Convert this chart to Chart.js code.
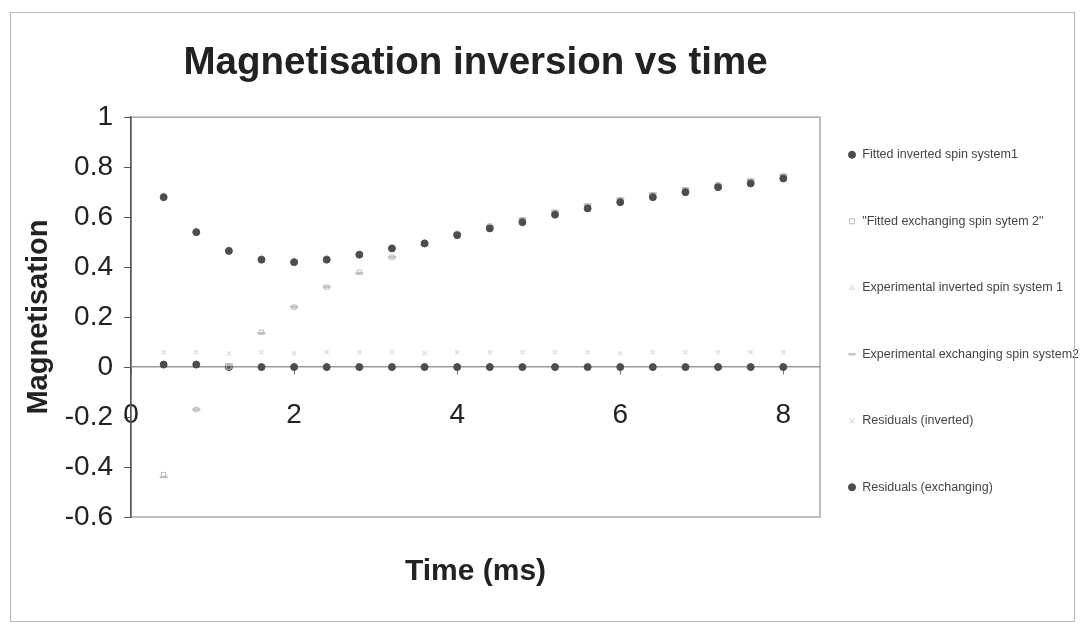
<!DOCTYPE html>
<html>
<head>
<meta charset="utf-8">
<script src="https://cdn.jsdelivr.net/npm/chart.js@4.4.1/dist/chart.umd.min.js"></script>
<style>
  html, body { margin: 0; padding: 0; background: #fff; }
  #wrap { position: relative; width: 1080px; height: 626px; }
  #frame { position: absolute; left: 10px; top: 12px; width: 1065px; height: 610px;
           border: 1.5px solid #b8b8b8; box-sizing: border-box; pointer-events: none; }
</style>
</head>
<body>
<div id="wrap">
  <canvas id="chart" width="1080" height="626"></canvas>
  <div id="frame"></div>
</div>
<script>
// time (ms) of each sample
const times = [0.4, 0.8, 1.2, 1.6, 2.0, 2.4, 2.8, 3.2, 3.6, 4.0, 4.4, 4.8, 5.2, 5.6, 6.0, 6.4, 6.8, 7.2, 7.6, 8.0];

const fittedInverted   = [0.68, 0.54, 0.465, 0.43, 0.42, 0.43, 0.45, 0.475, 0.495, 0.528, 0.555, 0.58, 0.61, 0.635, 0.66, 0.68, 0.70, 0.72, 0.735, 0.755];
const fittedExchanging = [-0.43, -0.17, 0.0, 0.14, 0.24, 0.32, 0.38, 0.44, 0.49, 0.535, 0.565, 0.59, 0.62, 0.645, 0.67, 0.69, 0.71, 0.73, 0.745, 0.765];
const expInverted      = [0.69, 0.55, 0.47, 0.44, 0.42, 0.44, 0.45, 0.48, 0.50, 0.53, 0.56, 0.58, 0.61, 0.64, 0.66, 0.68, 0.70, 0.72, 0.74, 0.76];
const expExchanging    = [-0.44, -0.17, 0.01, 0.135, 0.24, 0.32, 0.375, 0.44, 0.49, 0.535, 0.565, 0.595, 0.625, 0.65, 0.675, 0.695, 0.715, 0.73, 0.75, 0.77];
const residInverted    = [0.06, 0.06, 0.055, 0.06, 0.055, 0.06, 0.06, 0.06, 0.055, 0.06, 0.06, 0.06, 0.06, 0.06, 0.055, 0.06, 0.06, 0.06, 0.06, 0.06];
const residExchanging  = [0.01, 0.01, 0.0, 0.0, 0.0, 0.0, 0.0, 0.0, 0.0, 0.0, 0.0, 0.0, 0.0, 0.0, 0.0, 0.0, 0.0, 0.0, 0.0, 0.0];

const xTicks = [0, 2, 4, 6, 8];

const pts = ys => times.map((t, i) => ({ x: t, y: ys[i] }));

Chart.defaults.font.family = "'Liberation Sans', Arial, sans-serif";

// light grey frame round the plot area
const plotFrame = {
  id: 'plotFrame',
  beforeDraw(chart) {
    const { ctx, chartArea: a } = chart;
    ctx.save();
    ctx.strokeStyle = '#a9a9a9';
    ctx.lineWidth = 1.5;
    ctx.strokeRect(a.left, a.top, a.right - a.left, a.bottom - a.top);
    ctx.restore();
  }
};

// pull the legend a bit closer to the plot (widen its box to the left)
const legendShift = {
  id: 'legendShift',
  afterLayout(chart) {
    const lg = chart.legend;
    lg.left -= 26;
    lg.top += 7; lg.bottom += 7;
  }
};

new Chart(document.getElementById('chart'), {
  type: 'scatter',
  data: {
    datasets: [
      { label: 'Fitted inverted spin system1', data: pts(fittedInverted),
        pointStyle: 'circle', pointRadius: 3.5, backgroundColor: '#4d4d4d', borderColor: '#4d4d4d' },
      { label: '"Fitted exchanging spin sytem 2"', data: pts(fittedExchanging),
        pointStyle: 'rect', pointRadius: 3, backgroundColor: 'rgba(0,0,0,0)', borderColor: '#bdbdbd', borderWidth: 1 },
      { label: 'Experimental inverted spin system 1', data: pts(expInverted),
        pointStyle: 'triangle', pointRadius: 3, backgroundColor: '#eeeeee', borderColor: '#e8e8e8' },
      { label: 'Experimental exchanging spin system2', data: pts(expExchanging),
        pointStyle: 'line', pointRadius: 4, borderColor: '#c4c4c4', borderWidth: 2.5 },
      { label: 'Residuals (inverted)', data: pts(residInverted),
        pointStyle: 'crossRot', pointRadius: 3, borderColor: '#e0e0e0', borderWidth: 1.5 },
      { label: 'Residuals (exchanging)', data: pts(residExchanging),
        pointStyle: 'circle', pointRadius: 3.5, backgroundColor: '#4d4d4d', borderColor: '#4d4d4d' }
    ]
  },
  options: {
    responsive: false,
    animation: false,
    layout: { padding: { left: 10, right: 0, top: 12, bottom: 10 } },
    plugins: {
      title: {
        display: true, text: 'Magnetisation inversion vs time', fullSize: false,
        font: { size: 38.5, weight: 'bold' }, color: '#222',
        padding: { top: 28, bottom: 31 }
      },
      legend: {
        position: 'right', maxWidth: 260,
        labels: { usePointStyle: true, boxWidth: 8, boxHeight: 5, padding: 54,
                  font: { size: 12.5 }, color: '#444' }
      },
      tooltip: { enabled: false }
    },
    scales: {
      x: {
        type: 'linear', position: { y: 0 }, min: 0, max: 8.45,
        afterBuildTicks: s => { s.ticks = xTicks.map(v => ({ value: v })); },
        ticks: { font: { size: 28 }, color: '#222', padding: 24 },
        grid: { drawOnChartArea: false, tickLength: 7, color: '#777' },
        border: { color: '#9a9a9a', width: 1.5 }
      },
      xb: {
        type: 'linear', position: 'bottom', min: 0, max: 1,
        ticks: { display: false }, grid: { display: false }, border: { display: false },
        title: { display: true, text: 'Time (ms)', font: { size: 30, weight: 'bold' }, color: '#222',
                 padding: { top: 29, bottom: 26 } }
      },
      y: {
        type: 'linear', min: -0.6, max: 1,
        ticks: { stepSize: 0.2, font: { size: 28 }, color: '#222', padding: 11,
                 callback: v => String(Math.round(v * 10) / 10) },
        grid: { drawOnChartArea: false, tickLength: 7, color: '#555' },
        border: { color: '#555', width: 1.5 },
        title: { display: true, text: 'Magnetisation', font: { size: 29, weight: 'bold' }, color: '#222',
                 padding: { top: 12, bottom: -3 } }
      }
    }
  },
  plugins: [plotFrame, legendShift]
});
</script>
</body>
</html>
